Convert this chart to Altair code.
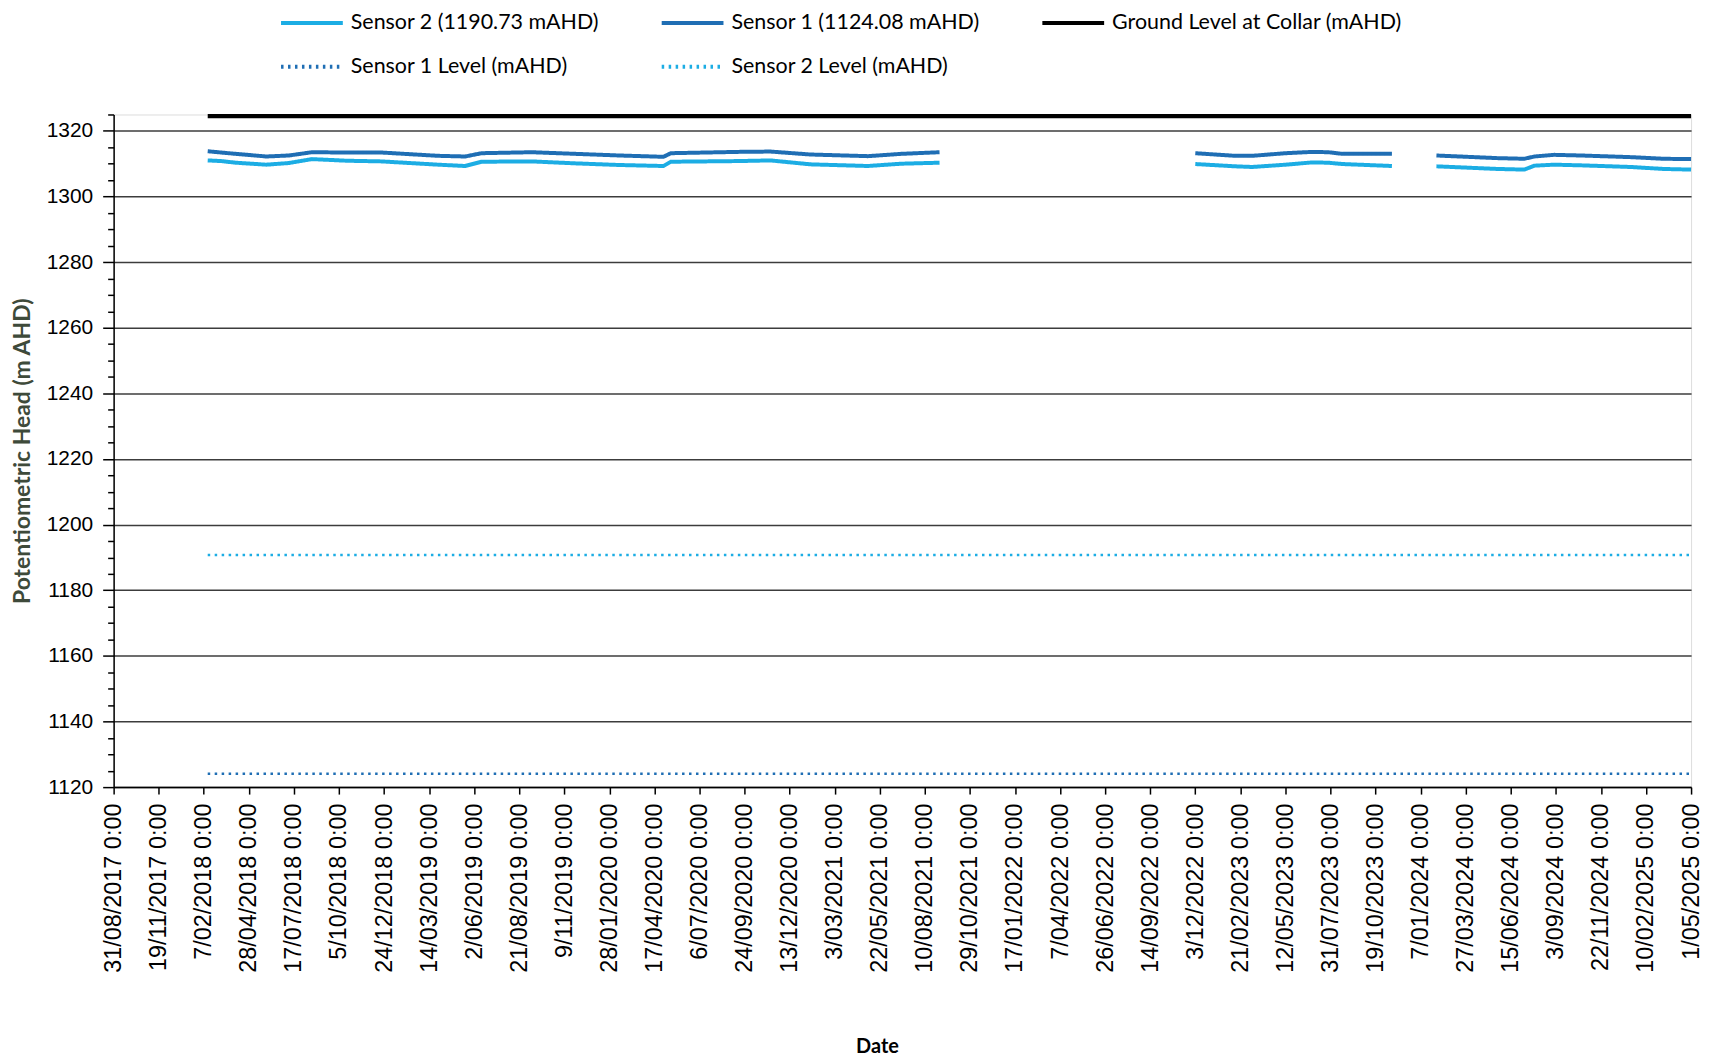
import altair as alt
import pandas as pd

SERIES = [
    "Sensor 2 (1190.73 mAHD)",
    "Sensor 1 Level (mAHD)",
    "Sensor 1 (1124.08 mAHD)",
    "Sensor 2 Level (mAHD)",
    "Ground Level at Collar (mAHD)",
]
COLORS = ["#1CADE4", "#1F6EB4", "#1F6EB4", "#1CADE4", "#000000"]
DASHES = [[1, 0], [2.5, 4.5], [1, 0], [2.5, 4.5], [1, 0]]
WIDTHS = [4, 2.5, 4, 2.5, 4.5]

# Segment A
dates_a = ["2018-02-14", "2018-03-10", "2018-04-05", "2018-05-29", "2018-07-08", "2018-08-18",
           "2018-10-20", "2018-12-20", "2019-03-30", "2019-05-17", "2019-06-15", "2019-09-12",
           "2019-11-29", "2020-02-15", "2020-05-03", "2020-05-16", "2020-09-12", "2020-11-09",
           "2021-01-19", "2021-05-01", "2021-06-29", "2021-09-05"]
s1_a = [1313.8, 1313.4, 1313.0, 1312.2, 1312.5, 1313.5, 1313.4, 1313.4, 1312.4, 1312.2, 1313.2,
        1313.5, 1313.0, 1312.5, 1312.1, 1313.2, 1313.6, 1313.7, 1312.8, 1312.3, 1313.0, 1313.5]
s2_a = [1311.0, 1310.8, 1310.3, 1309.7, 1310.2, 1311.4, 1310.9, 1310.7, 1309.7, 1309.3, 1310.6,
        1310.7, 1310.1, 1309.6, 1309.3, 1310.6, 1310.8, 1311.0, 1309.8, 1309.3, 1310.0, 1310.3]

# Segment B
dates_b = ["2022-12-03", "2023-02-12", "2023-03-14", "2023-05-12", "2023-06-29", "2023-07-27",
           "2023-08-21", "2023-11-17"]
s1_b = [1313.2, 1312.4, 1312.4, 1313.2, 1313.6, 1313.5, 1313.0, 1313.0]
s2_b = [1309.9, 1309.2, 1309.0, 1309.7, 1310.4, 1310.3, 1309.9, 1309.3]

# Segment C
dates_c = ["2024-02-04", "2024-05-22", "2024-07-09", "2024-07-27", "2024-08-31", "2024-10-18",
           "2025-01-14", "2025-03-13", "2025-05-01"]
s1_c = [1312.5, 1311.7, 1311.5, 1312.2, 1312.7, 1312.5, 1312.0, 1311.5, 1311.4]
s2_c = [1309.2, 1308.4, 1308.2, 1309.4, 1309.7, 1309.5, 1309.0, 1308.4, 1308.2]

level_dates = ["2018-02-14", "2025-05-01"]
ground_level = [1324.5, 1324.5]
sensor1_level = [1124.08, 1124.08]
sensor2_level = [1190.73, 1190.73]

tick_dates = ["2017-08-31", "2017-11-19", "2018-02-07", "2018-04-28", "2018-07-17", "2018-10-05",
              "2018-12-24", "2019-03-14", "2019-06-02", "2019-08-21", "2019-11-09", "2020-01-28",
              "2020-04-17", "2020-07-06", "2020-09-24", "2020-12-13", "2021-03-03", "2021-05-22",
              "2021-08-10", "2021-10-29", "2022-01-17", "2022-04-07", "2022-06-26", "2022-09-14",
              "2022-12-03", "2023-02-21", "2023-05-12", "2023-07-31", "2023-10-19", "2024-01-07",
              "2024-03-27", "2024-06-15", "2024-09-03", "2024-11-22", "2025-02-10", "2025-05-01"]
y_ticks = list(range(1120, 1326, 5))

S2, L1, S1, L2, GR = SERIES
width_of = dict(zip(SERIES, WIDTHS))
groups = [
    (S2, "s2a", dates_a, s2_a), (S2, "s2b", dates_b, s2_b), (S2, "s2c", dates_c, s2_c),
    (S1, "s1a", dates_a, s1_a), (S1, "s1b", dates_b, s1_b), (S1, "s1c", dates_c, s1_c),
    (GR, "g", level_dates, ground_level),
    (L1, "l1", level_dates, sensor1_level),
    (L2, "l2", level_dates, sensor2_level),
]
rows = []
for name, seg, ds, vs in groups:
    for d, v in zip(ds, vs):
        rows.append({"date": d, "value": v, "series": name, "seg": seg, "w": width_of[name]})
df = pd.DataFrame(rows)


def dt(s):
    y, m, d = map(int, s.split("-"))
    return alt.DateTime(year=y, month=m, date=d, utc=True)


legend = alt.Legend(
    title=None, orient="none", legendX=166, legendY=-125, columns=3,
    symbolType="stroke", symbolSize=3844, symbolStrokeWidth=4,
    labelFont="Lato", labelFontSize=21.5,
    labelColor="black", columnPadding=54, rowPadding=-18, labelOffset=6, padding=0,
    labelLimit=400,
)

major = "datum.value % 20 === 0"

chart = alt.Chart(df).mark_line(strokeCap="butt").encode(
    x=alt.X(
        "date:T",
        scale=alt.Scale(type="utc", domain=[dt(tick_dates[0]), dt(tick_dates[-1])]),
        axis=alt.Axis(
            values=[dt(s) for s in tick_dates],
            labelExpr="utcFormat(datum.value, '%-d/%m/%Y 0:00')",
            labelAngle=270, labelAlign="right", labelBaseline="middle",
            labelFont="Liberation Sans", labelFontSize=23.5, labelColor="black",
            labelPadding=9, tickSize=7, tickColor="black", tickWidth=1.5,
            domainColor="black", domainWidth=1.5, grid=False,
            labelOverlap=False, labelFlush=False,
            title="Date", titleFont="Lato", titleFontSize=20, titleFontWeight="bold",
            titleColor="black", titleX=766, titleY=260, titleAlign="center",
            titleBaseline="middle",
        ),
    ),
    y=alt.Y(
        "value:Q",
        scale=alt.Scale(domain=[1120, 1325], nice=False, zero=False),
        axis=alt.Axis(
            values=y_ticks,
            labelExpr=f"{major} ? format(datum.value, 'd') : ''",
            labelFont="Liberation Sans", labelFontSize=21, labelColor="black",
            labelPadding=10,
            tickSize={"condition": {"test": major, "value": 11}, "value": 6},
            tickColor="black", tickWidth=1.5,
            domainColor="black", domainWidth=1.5,
            grid=True, gridColor="#3c3c3c", gridWidth=1.5,
            gridOpacity={"condition": {"test": major, "value": 1}, "value": 0},
            labelOverlap=False,
            title="Potentiometric Head (m AHD)", titleFont="Lato", titleFontSize=23,
            titleFontWeight="bold", titleColor="#3E4A3A", titlePadding=12,
        ),
    ),
    color=alt.Color("series:N", scale=alt.Scale(domain=SERIES, range=COLORS), legend=legend),
    strokeDash=alt.StrokeDash("series:N", scale=alt.Scale(domain=SERIES, range=DASHES), legend=legend),
    strokeWidth=alt.StrokeWidth("w:Q", scale=None),
    detail="seg:N",
).properties(
    width=1583,
    height=675,
    autosize="none",
    padding={"left": 106, "top": 105, "right": 20, "bottom": 275},
).configure_view(strokeWidth=0).configure(background="white")

chart.save("out.html", embed_options={"renderer": "svg", "actions": False})
